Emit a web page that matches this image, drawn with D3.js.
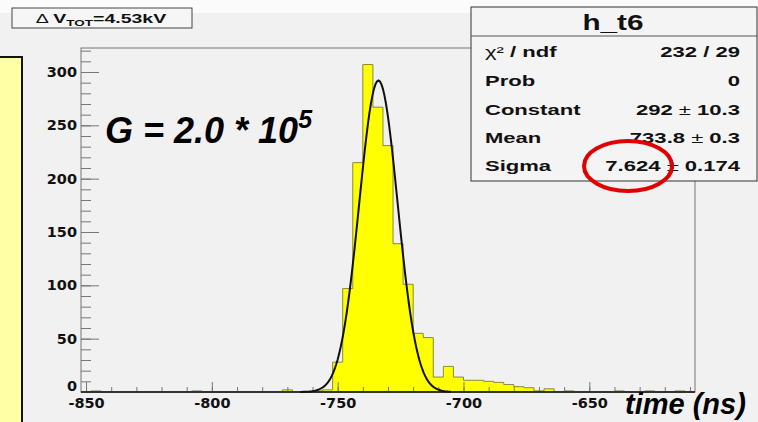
<!DOCTYPE html>
<html>
<head>
<meta charset="utf-8">
<script src="https://cdn.jsdelivr.net/npm/d3@7"></script>
<style>
  body { margin: 0; background: #f1f1f1; }
  svg { display: block; font-family: "Liberation Sans", Arial, sans-serif; font-weight: bold; }
</style>
</head>
<body>
<div id="container"></div>
<script>
// histogram h_t6 : 4 ns bins starting at -852 ns
var binStart = -852;
var binWidth = 4;
var counts = [
  0, 1, 0, 0, 0, 0, 0, 0, 0, 0,
  0, 1, 0, 0, 0, 0, 0, 0, 0, 0,
  2, 0, 0, 1, 2, 28, 97, 215, 307, 267,
  231, 139, 101, 55, 51, 14, 24, 14, 11, 11,
  10, 9, 7, 5, 4, 1, 3, 0, 1, 0,
  0, 0, 0, 1, 0, 0, 1, 0, 0, 1,
  0
];

// gaussian fit parameters (from the stats box)
var fitParams = [292, -733.8, 7.624];
var fitRange = [-765, -705];

var xTicks = [-850, -800, -750, -700, -650];
var yTicks = [0, 50, 100, 150, 200, 250, 300];

var statLabels = ["\u03c7\u00b2 / ndf", "Prob", "Constant", "Mean", "Sigma"];
var statValues = [["232 / 29"], ["0"], ["292", "10.3"], ["733.8", "0.3"], ["7.624", "0.174"]];

var width = 758, height = 422;

var svg = d3.select("#container").append("svg")
    .attr("width", width)
    .attr("height", height);

svg.append("rect").attr("width", width).attr("height", height).attr("fill", "#f1f1f1");
svg.append("rect").attr("width", width).attr("height", 13).attr("fill", "#fbfbfb");

// yellow side panel on the left
svg.append("rect").attr("x", -2).attr("y", 57).attr("width", 24).attr("height", 380)
    .attr("fill", "#ffffa6").attr("stroke", "#111").attr("stroke-width", 2);

var x = d3.scaleLinear().domain([binStart, binStart + binWidth * counts.length]).range([81, 695]);
var y = d3.scaleLinear().domain([0, 322.5]).range([392, 48]);

//frame
svg.append("rect")
    .attr("x", x.range()[0]).attr("y", y.range()[1])
    .attr("width", x.range()[1] - x.range()[0])
    .attr("height", y.range()[0] - y.range()[1])
    .attr("fill", "none").attr("stroke", "#777").attr("stroke-width", 1);

//histogram points for step drawing
var pts = counts.map(function(c, i) { return [binStart + i * binWidth, c]; });
pts.push([binStart + counts.length * binWidth, counts[counts.length - 1]]);

var area = d3.area()
    .curve(d3.curveStepAfter)
    .x(function(d) { return x(d[0]); })
    .y0(y(0))
    .y1(function(d) { return y(d[1]); });

var line = d3.line()
    .curve(d3.curveStepAfter)
    .x(function(d) { return x(d[0]); })
    .y(function(d) { return y(d[1]); });

svg.append("path").attr("d", area(pts)).attr("fill", "#ffff00");
svg.append("path").attr("d", line(pts)).attr("fill", "none")
    .attr("stroke", "#8a8a3a").attr("stroke-width", 1);

// axes
var yMajor = d3.axisLeft(y).tickValues(yTicks).tickSize(-18).tickPadding(4);
var yMinor = d3.axisLeft(y).tickValues(d3.range(0, 321, 10)).tickSize(-10).tickFormat("");
var xMajor = d3.axisBottom(x).tickValues(xTicks).tickSize(-10).tickPadding(6)
    .tickFormat(function(d) { return String(d); });
var xMinor = d3.axisBottom(x).tickValues(d3.range(-850, -609, 10)).tickSize(-5).tickFormat("");

function styleAxis(g) {
  g.select(".domain").remove();
  g.selectAll("line").attr("stroke", "#777");
  g.selectAll("text").attr("fill", "#111")
      .style("font-family", "'DejaVu Sans', sans-serif")
      .style("font-weight", "bold")
      .style("font-size", "14.5px");
}

svg.append("g").attr("transform", "translate(81,0)").call(yMinor).call(styleAxis);
var yAxisG = svg.append("g").attr("transform", "translate(81,0)").call(yMajor).call(styleAxis);
svg.append("g").attr("transform", "translate(0,392)").call(xMinor).call(styleAxis);
svg.append("g").attr("transform", "translate(0,392)").call(xMajor).call(styleAxis);

// the zero label sits a little higher so it clears -850
yAxisG.selectAll(".tick text").filter(function(d) { return d === 0; }).attr("y", -6);

// x axis base line
svg.append("line").attr("x1", 81).attr("x2", 695).attr("y1", 392).attr("y2", 392)
    .attr("stroke", "#333").attr("stroke-width", 2);

// gaussian fit
var gauss = function(t) {
  return fitParams[0] * Math.exp(-0.5 * Math.pow((t - fitParams[1]) / fitParams[2], 2));
};
var fitPts = d3.range(fitRange[0], fitRange[1] + 0.01, 0.6).map(function(t) { return [t, gauss(t)]; });
svg.append("path")
    .attr("d", d3.line().x(function(d) { return x(d[0]); }).y(function(d) { return y(d[1]); })(fitPts))
    .attr("fill", "none").attr("stroke", "#111").attr("stroke-width", 2);

//stretched text helper
function stretchText(g, tx, ty, str, size, sx, anchor) {
  return g.append("text")
      .attr("transform", "translate(" + tx + "," + ty + ") scale(" + sx + ",1)")
      .attr("text-anchor", anchor || "start")
      .attr("fill", "#111")
      .style("font-size", size + "px")
      .text(str);
}

// delta V box
svg.append("rect").attr("x", 12).attr("y", 8).attr("width", 180).attr("height", 20)
    .attr("fill", "#f6f6f6").attr("stroke", "#444").attr("stroke-width", 1);
var dv = svg.append("text")
    .attr("transform", "translate(101,23) scale(1.5,1)")
    .attr("text-anchor", "middle").attr("fill", "#111")
    .style("font-size", "13px");
dv.append("tspan").style("font-weight", "normal").text("\u0394 ");
dv.append("tspan").text("V");
dv.append("tspan").attr("dy", 3).style("font-size", "9px").text("TOT");
dv.append("tspan").attr("dy", -3).text("=4.53kV");

// gain label
var gl = svg.append("text").attr("x", 105).attr("y", 143)
    .attr("fill", "#000").style("font-size", "36px").style("font-style", "italic");
gl.append("tspan").text("G = 2.0 * 10");
gl.append("tspan").attr("dy", -15).style("font-size", "25px").text("5");

// stats box
var stats = svg.append("g");
stats.append("rect").attr("x", 471).attr("y", 7).attr("width", 286).attr("height", 174)
    .attr("fill", "#f4f4f4").attr("stroke", "#333").attr("stroke-width", 1);
stats.append("line").attr("x1", 471).attr("x2", 757).attr("y1", 36).attr("y2", 36)
    .attr("stroke", "#555").attr("stroke-width", 1);
stretchText(stats, 613, 30, "h_t6", 22, 1.35, "middle");

var rowY = [57, 86, 115, 143, 171];
statLabels.forEach(function(lab, i) {
  var t = stretchText(stats, 485, rowY[i], "", 15, 1.47, "start");
  if (i === 0) {
    t.append("tspan").style("font-weight", "normal").text("\u03c7\u00b2");
    t.append("tspan").text(" / ndf");
  } else {
    t.text(lab);
  }
  var v = statValues[i];
  var tv = stretchText(stats, 740, rowY[i], "", 15, 1.47, "end");
  tv.append("tspan").text(v[0]);
  if (v.length > 1) {
    tv.append("tspan").style("font-weight", "normal").text(" \u00b1 ");
    tv.append("tspan").text(v[1]);
  }
});

// red circle around sigma
svg.append("ellipse").attr("cx", 628).attr("cy", 166).attr("rx", 44).attr("ry", 25)
    .attr("fill", "none").attr("stroke", "#e00000").attr("stroke-width", 4);

// axis title
svg.append("text").attr("x", 625).attr("y", 414)
    .attr("fill", "#000").style("font-size", "29px").style("font-style", "italic")
    .text("time (ns)");
</script>
</body>
</html>
